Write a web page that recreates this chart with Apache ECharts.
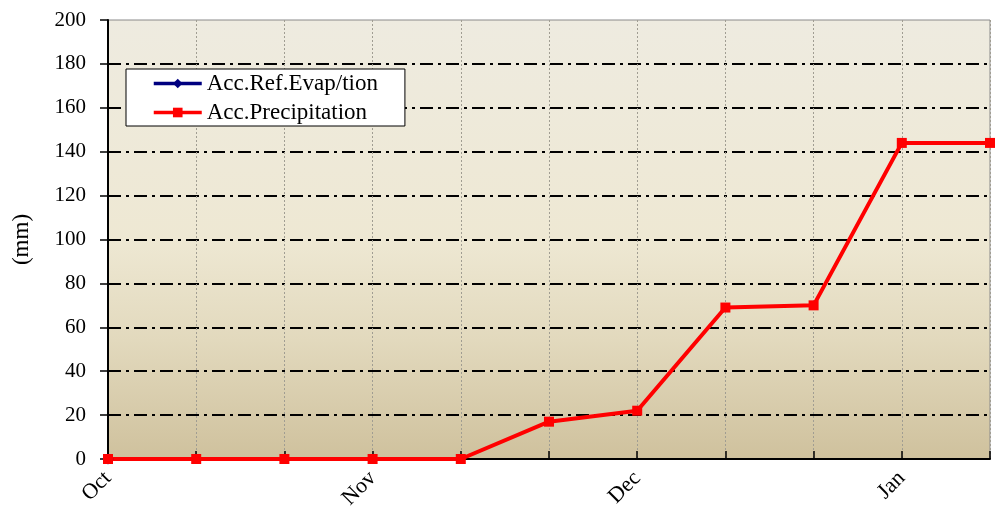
<!DOCTYPE html>
<html><head><meta charset="utf-8">
<script src="https://cdn.jsdelivr.net/npm/echarts@6/dist/echarts.min.js"></script>
<style>html,body{margin:0;padding:0;background:#fff}#c{width:1000px;height:511px}</style>
</head><body><div id="c"></div>
<script>
var categories = ['Oct','a1','a2','Nov','b1','b2','Dec','c1','c2','Jan','d1'];
var tickLabels = {'Oct':'Oct','Nov':'Nov','Dec':'Dec','Jan':'Jan'};
var evapValues = [0, null, null, null, null, null, null, null, null, null, null];
var precipValues = [0, 0, 0, 0, 0, 17, 22, 69, 70, 144, 144];
var yTicks = [0, 200, 20];
</script>
<script>
var chart = echarts.init(document.getElementById('c'));
var font = 'Liberation Serif';
chart.setOption({
  animation: false,
  textStyle: {fontFamily: font},
  grid: {left: 108, right: 10, top: 20, bottom: 52, show: true, borderColor: '#8a8a8a', borderWidth: 1,
    outerBoundsMode: 'none', containLabel: false,
    backgroundColor: new echarts.graphic.LinearGradient(0, 0, 0, 1, [
      {offset: 0, color: '#eeebe0'}, {offset: 0.5, color: '#eee8d3'},
      {offset: 0.73, color: '#e2d9bd'}, {offset: 1, color: '#cfc19d'}])},
  legend: {
    orient: 'vertical', left: 126, top: 69, backgroundColor: '#fff', borderColor: '#000', borderWidth: 1,
    padding: [3, 27, 2, 26], itemGap: 6, itemWidth: 48, itemHeight: 12,
    lineStyle: {width: 3.5},
    textStyle: {fontFamily: font, fontSize: 23, color: '#000'},
    data: ['Acc.Ref.Evap/tion', 'Acc.Precipitation']
  },
  xAxis: {
    type: 'category', boundaryGap: false, data: categories,
    axisLine: {lineStyle: {color: '#000', width: 2}},
    axisTick: {inside: true, length: 8, lineStyle: {color: '#000', width: 1.5}, interval: 0},
    axisLabel: {interval: 0, rotate: 45, fontSize: 22, color: '#000', margin: 16,
      formatter: function(v){ return tickLabels[v] || ''; }},
    splitLine: {show: true, interval: 0, lineStyle: {color: '#a09d92', type: [2, 2], width: 1}}
  },
  yAxis: {
    type: 'value', min: yTicks[0], max: yTicks[1], interval: yTicks[2],
    name: '(mm)', nameLocation: 'middle', nameGap: 75, nameRotate: 90,
    nameTextStyle: {fontSize: 23, color: '#000', fontFamily: font},
    axisLine: {show: true, lineStyle: {color: '#000', width: 2}},
    axisTick: {show: true, length: 8, lineStyle: {color: '#000', width: 1.5}},
    axisLabel: {fontSize: 21, color: '#000', margin: 22},
    splitLine: {showMaxLine: false, lineStyle: {color: '#000', width: 1.8, type: [13, 5, 3, 5]}}
  },
  series: [
    {name: 'Acc.Ref.Evap/tion', type: 'line', data: evapValues, color: '#000080',
      symbol: 'diamond', symbolSize: 11, lineStyle: {width: 3.5}},
    {name: 'Acc.Precipitation', type: 'line', data: precipValues, color: '#ff0000',
      symbol: 'rect', symbolSize: 10, lineStyle: {width: 4}, z: 3}
  ]
});
</script></body></html>
